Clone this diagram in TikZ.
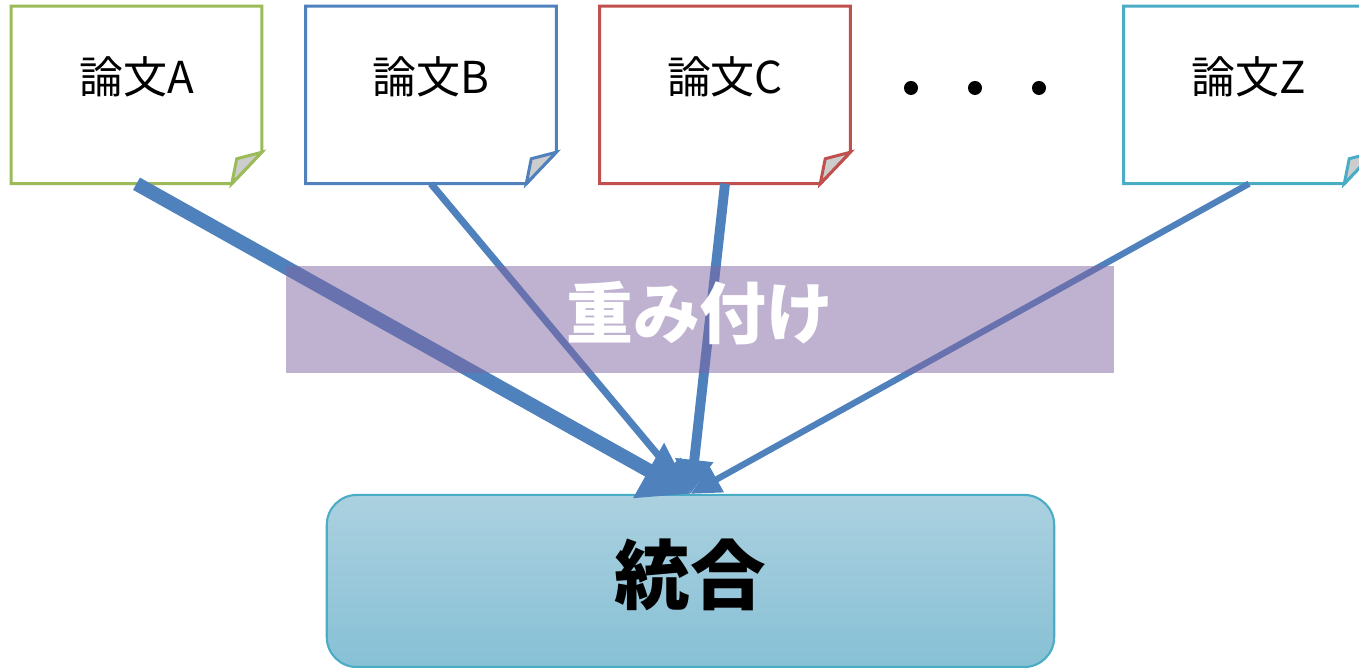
\documentclass[tikz,border=0pt]{standalone}
\usepackage{fontspec}
\newfontfamily\jp{Noto Sans CJK JP}
\usetikzlibrary{arrows.meta,calc}
\definecolor{lgreen}{RGB}{155,187,89}
\definecolor{lblue}{RGB}{79,129,189}
\definecolor{lred}{RGB}{192,80,77}
\definecolor{lcyan}{RGB}{75,172,198}
\definecolor{arrowblue}{RGB}{79,129,189}
\definecolor{bandpurple}{RGB}{128,100,162}
\definecolor{flapgray}{RGB}{205,205,205}
\definecolor{boxtop}{RGB}{171,209,224}
\definecolor{boxbot}{RGB}{135,192,213}
\begin{document}
\begin{tikzpicture}[x=0.01cm,y=-0.01cm,
  paper/.style={rectangle, minimum width=2.49cm, minimum height=1.76cm,
    inner sep=0pt},
  outline/.style={draw=#1, line width=0.85pt, line join=miter},
  flap/.style={draw=#1, fill=flapgray, line width=0.85pt, line join=miter},
  label/.style={font=\jp\fontsize{12.5}{15}\selectfont, text=black},
  conn/.style={draw=arrowblue, line width=#1},
  dot/.style={circle, fill=black, minimum size=0.14cm, inner sep=0pt}]
\useasboundingbox (0,0) rectangle (1359,668);
\newcommand\paperdraw[2]{%
  \draw[outline=#2] (#1.north west) -- (#1.north east) -- ($(#1.north east)+(0,146)$)
    -- ($(#1.south east)+(-30,0)$) -- (#1.south west) -- cycle;
  \filldraw[flap=#2] ($(#1.south east)+(-30,0)$) -- ($(#1.south east)+(-25,-25)$)
    -- ($(#1.north east)+(0,146)$) -- cycle;}
% papers
\node[paper] (a) at (136.5,95) {};
\node[paper] (b) at (431,95) {};
\node[paper] (c) at (725,95) {};
\node[paper] (z) at (1249,95) {};
\paperdraw{a}{lgreen}
\paperdraw{b}{lblue}
\paperdraw{c}{lred}
\paperdraw{z}{lcyan}
\node[label] (ta) at (136.5,77) {論文A};
\node[label] (tb) at (431,77) {論文B};
\node[label] (tc) at (725,77) {論文C};
\node[label] (tz) at (1249,77) {論文Z};
% dots
\node[dot] (d1) at (911,88) {};
\node[dot] (d2) at (975,88) {};
\node[dot] (d3) at (1039,88) {};
% merge box
\node[rounded corners=0.3cm, draw=lcyan, line width=0.6pt, top color=boxtop, bottom color=boxbot,
  minimum width=7.27cm, minimum height=1.72cm, inner sep=0pt] (m) at (690.5,581) {};
\node[font=\jp\bfseries\fontsize{21.5}{24}\selectfont] (mt) at (690.5,575) {統合};
% connectors
\draw[conn=4pt, -{Triangle[length=0.48cm,width=0.6cm]}] (a.south) -- (m.north);
\draw[conn=2pt, -{Triangle[length=0.34cm,width=0.3cm]}] (b.south) -- (m.north);
\draw[conn=2.8pt, -{Triangle[length=0.34cm,width=0.36cm]}] (c.south) -- (m.north);
\draw[conn=1.8pt, -{Triangle[length=0.3cm,width=0.28cm]}] (z.south) -- (m.north);
% weighting band
\node[fill=bandpurple, fill opacity=0.5, minimum width=8.28cm, minimum height=1.07cm, inner sep=0pt] (w) at (700,319.5) {};
\node[text=white, font=\jp\bfseries\fontsize{19}{22}\selectfont] (wt) at (700,313) {重み付け};
\end{tikzpicture}
\end{document}
